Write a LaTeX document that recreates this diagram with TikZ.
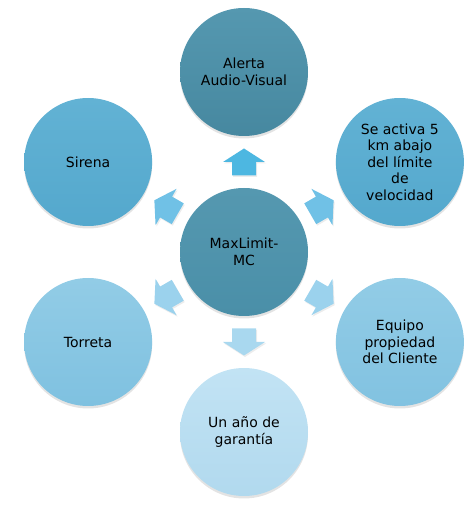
\documentclass[tikz,border=0pt]{standalone}
\usepackage{fontspec}
\setmainfont{DejaVu Sans}
\usetikzlibrary{shadows,calc}
\definecolor{mlteal}{HTML}{4A8FA8}
\definecolor{mltealtop}{HTML}{5598B0}
\definecolor{mlmid}{HTML}{54A8CD}
\definecolor{mlmidtop}{HTML}{62B2D4}
\definecolor{mllight}{HTML}{7FC1E0}
\definecolor{mllighttop}{HTML}{92CCE6}
\definecolor{mlpale}{HTML}{B1D9EE}
\definecolor{mlpaletop}{HTML}{C2E3F4}
\definecolor{mlarrow}{HTML}{4DB7E1}
\definecolor{mlarrowb}{HTML}{70C1E6}
\definecolor{mlarrowc}{HTML}{A9D8EF}
\begin{document}
\begin{tikzpicture}[
  x=1pt, y=1pt,
  mlcirc/.style = {circle, minimum size=128pt, inner sep=0pt, align=center,
    font=\fontsize{14}{16.5}\selectfont,
    drop shadow={opacity=0.22, shadow xshift=0pt, shadow yshift=-2.5pt}},
  mlarr/.style = {drop shadow={opacity=0.15, shadow xshift=1pt, shadow yshift=-1.5pt}}
]
  \useasboundingbox (0,0) rectangle (475,507);
  % centro
  \node[mlcirc, top color=mltealtop, bottom color=mlteal] (c) at (244,255) {MaxLimit-\\MC};
  % circulos exteriores
  \node[mlcirc, top color=mltealtop, bottom color=mlteal!95!black] (alerta) at ($(c)+(90:180)$) {Alerta\\Audio-Visual};
  \node[mlcirc, top color=mlmidtop, bottom color=mlmid] (activa) at ($(c)+(30:180)$) {Se activa 5\\km abajo\\del límite\\de\\velocidad};
  \node[mlcirc, top color=mllighttop, bottom color=mllight!95!mlpale] (equipo) at ($(c)+(-30:180)$) {Equipo\\propiedad\\del Cliente};
  \node[mlcirc, top color=mlpaletop, bottom color=mlpale] (garantia) at ($(c)+(-90:180)$) {Un año de\\garantía};
  \node[mlcirc, top color=mllighttop, bottom color=mllight] (torreta) at ($(c)+(210:180)$) {Torreta};
  \node[mlcirc, top color=mlmidtop, bottom color=mlmid] (sirena) at ($(c)+(150:180)$) {Sirena};
  % flechas
  \foreach \ang/\tgt/\col in {90/alerta/mlarrow, 30/activa/mlarrowb, -30/equipo/mlarrowc!75!mlarrowb,
      -90/garantia/mlarrowc, 210/torreta/mlarrowc!75!mlarrowb, 150/sirena/mlarrowb} {
    \fill[mlarr, \col, shift={($(c)!0.5!(\tgt)$)}, rotate=\ang]
      (-13.5,-12) -- (0,-12) -- (0,-21) -- (13.5,0) -- (0,21) -- (0,12) -- (-13.5,12) -- cycle;
  }
\end{tikzpicture}
\end{document}
